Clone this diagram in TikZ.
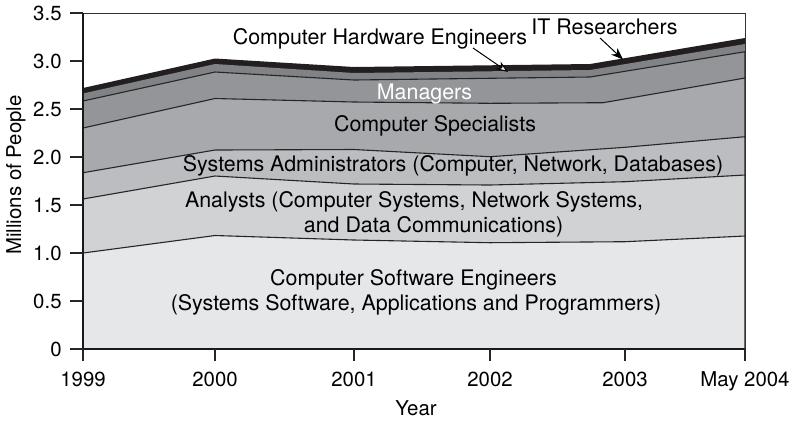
\documentclass[tikz,border=0pt]{standalone}
\usepackage{fontspec}
\setmainfont{TeX Gyre Heros}
\usetikzlibrary{arrows.meta}
\definecolor{itgray}{HTML}{231F20}
\definecolor{hwgray}{HTML}{808285}
\definecolor{mggray}{HTML}{939598}
\definecolor{spgray}{HTML}{A7A9AC}
\definecolor{sagray}{HTML}{BCBDC0}
\definecolor{angray}{HTML}{D1D2D4}
\definecolor{swgray}{HTML}{E6E7E8}
\tikzset{lbl/.style={inner sep=0pt, anchor=base},
  layer/.style={lbl, font=\fontsize{10.7}{12}\selectfont},
  bnd/.style={draw=black!85, line width=0.55pt},
  tck/.style={line width=0.7pt, black!85},
  ptr/.style={-{Stealth[length=6pt, width=4.5pt]}, line width=0.5pt},
  optr/.style={-{Stealth[length=6pt, width=4.5pt, fill=white]}, line width=0.5pt}}

\begin{document}
\begin{tikzpicture}[x=0.5pt, y=-0.5pt, font=\fontsize{10.2}{12}\selectfont]
  \useasboundingbox (0,0) rectangle (796,420);
  % stacked layers, top one first
  \fill[itgray] (83,88) -- (215,58.5) -- (354,67) -- (590,64) -- (745,38) -- (745,349) -- (83,349) -- cycle;
  \fill[hwgray] (83,93.5) -- (215,64) -- (354,73) -- (590,70) -- (745,44) -- (745,349) -- (83,349) -- cycle;
  \filldraw[bnd, fill=mggray] (83,101) -- (215,72) -- (354,80) -- (590,77) -- (745,51.7) -- (745,349) -- (83,349) -- cycle;
  \filldraw[bnd, fill=spgray] (83,128) -- (215,98.5) -- (354,102) -- (490,103.3) -- (603,102.7) -- (745,78) -- (745,349) -- (83,349) -- cycle;
  \filldraw[bnd, fill=sagray] (83,172.7) -- (215,150) -- (354,149.5) -- (490,156.7) -- (625,147.3) -- (745,136.7) -- (745,349) -- (83,349) -- cycle;
  \filldraw[bnd, fill=angray] (83,199) -- (215,176) -- (354,184) -- (490,185) -- (625,181.7) -- (745,175) -- (745,349) -- (83,349) -- cycle;
  \filldraw[bnd, fill=swgray] (83,253) -- (215,235.5) -- (354,240) -- (490,242.7) -- (625,241.7) -- (745,236) -- (745,349) -- (83,349) -- cycle;
  % frame and axes
  \draw[black!80, line width=0.5pt] (83,13) -- (745,13) -- (745,349);
  \draw[black!90, line width=0.9pt] (83,13) -- (83,349) -- (745,349);
  \foreach \v in {0,0.5,...,3.5}
    \draw[tck] (70,{349-96*\v}) -- (83,{349-96*\v});
  \foreach \v/\t in {0/0,0.5/0.5,1/1.0,1.5/1.5,2/2.0,2.5/2.5,3/3.0,3.5/3.5}
    \node[inner sep=0pt, anchor=east] (ytick\t) at (62,{349-96*\v}) {\t};
  \foreach \x/\t in {83/1999,215/2000,354/2001,490/2002,625/2003,745/May 2004} {
    \draw[tck] (\x,349) -- (\x,361);
    \node[lbl] (xtick\x) at (\x,386) {\t};
  }
  \node[lbl] (xlab) at (416,415) {Year};
  \node[inner sep=0pt, rotate=90] (ylab) at (16,175) {Millions of People};
  % layer labels
  \node[layer] (sweng) at (413.5,285) {Computer Software Engineers};
  \node[layer] (swsub) at (416,310) {(Systems Software, Applications and Programmers)};
  \node[layer] (anl) at (414,207) {Analysts (Computer Systems, Network Systems,};
  \node[layer] (anlsub) at (433.5,232) {and Data Communications)};
  \node[layer] (sysadm) at (453,171) {Systems Administrators (Computer, Network, Databases)};
  \node[layer] (cspec) at (435,131.5) {Computer Specialists};
  \node[layer, white] (mgr) at (424.5,99) {Managers};
  \node[layer] (hweng) at (380,44) {Computer Hardware Engineers};
  \node[layer] (itres) at (604.5,34.3) {IT Researchers};
  % pointers
  \coordinate (hwtail) at (473,48);
  \coordinate (hwtip) at (508,72);
  \coordinate (ittail) at (600,38);
  \coordinate (ittip) at (623,59.5);
  \draw[optr] (hwtail) -- (hwtip);
  \draw[ptr] (ittail) -- (ittip);
\end{tikzpicture}
\end{document}
